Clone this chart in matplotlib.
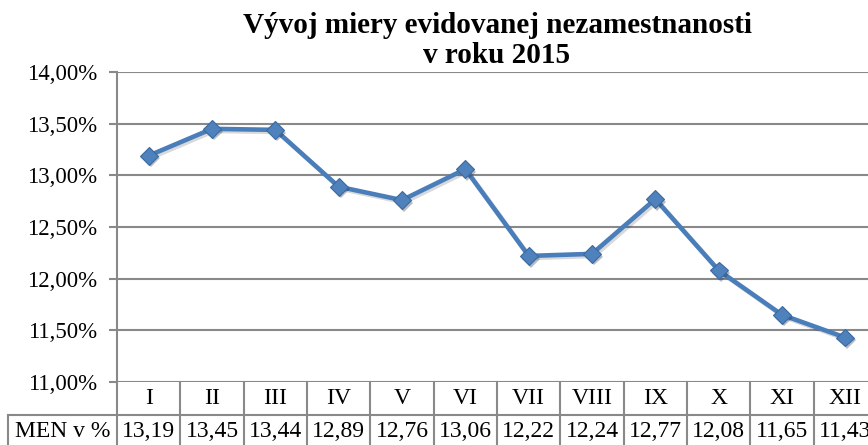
"""Vývoj miery evidovanej nezamestnanosti v roku 2015 - line chart with data table."""
import matplotlib
matplotlib.use("Agg")
import matplotlib.pyplot as plt
import matplotlib.patheffects as pe
from matplotlib.ticker import FuncFormatter, MultipleLocator

months = ["I", "II", "III", "IV", "V", "VI", "VII", "VIII", "IX", "X", "XI", "XII"]
men = [13.19, 13.45, 13.44, 12.89, 12.76, 13.06, 12.22, 12.24, 12.77, 12.08, 11.65, 11.43]
row_label = "MEN v %"
title_lines = ["Vývoj miery evidovanej nezamestnanosti", "v roku 2015"]

plt.rcParams["font.family"] = ["Liberation Serif", "DejaVu Serif"]

W, H = 868, 445
fig = plt.figure(figsize=(W / 100, H / 100), dpi=100)

# plot area in pixels
left_px, right_px = 117, 877
top_px, bot_px = 72, 382
ax = fig.add_axes([left_px / W, 1 - bot_px / H, (right_px - left_px) / W, (bot_px - top_px) / H])

grid_c = "#898989"
line_c = "#4A7EBB"
x = list(range(len(months)))

ax.plot(x, men, color=line_c, lw=3.3, solid_joinstyle="round", zorder=3,
        path_effects=[pe.SimpleLineShadow(offset=(1.5, -1.5), alpha=0.15), pe.Normal()])
ax.plot(x, men, ls="none", marker="D", ms=9, mfc="#4F81BD", mec="#3A6A9F", mew=0.8, zorder=4,
        path_effects=[pe.SimplePatchShadow(offset=(1.5, -2), alpha=0.3), pe.Normal()])

ax.set_xlim(-0.5, len(months) - 0.5)
ax.set_ylim(11, 14)
ax.yaxis.set_major_locator(MultipleLocator(0.5))
ax.yaxis.set_major_formatter(FuncFormatter(lambda v, _: f"{v:.2f}%".replace(".", ",")))
ax.grid(axis="y", color=grid_c, lw=1.5)
ax.set_axisbelow(True)
ax.tick_params(axis="y", length=6, width=1.5, color=grid_c, labelsize=16.5, pad=8.5)
ax.tick_params(axis="x", bottom=False, labelbottom=False)
for s in ["top", "right", "bottom"]:
    ax.spines[s].set_visible(False)
ax.spines["left"].set_color(grid_c)
ax.spines["left"].set_linewidth(1.5)

# data table under the plot, sharing the x scale
px_per_unit = (right_px - left_px) / len(months)
tab_left_px = 8
x0 = -0.5 - (left_px - tab_left_px) / px_per_unit
row_h = 33
tax = fig.add_axes([tab_left_px / W, 1 - (bot_px + 2 * row_h) / H,
                    (right_px - tab_left_px) / W, 2 * row_h / H])
tax.set_xlim(x0, len(months) - 0.5)
tax.set_ylim(0, 2)
tax.axis("off")

tkw = dict(color=grid_c, lw=1.5, solid_capstyle="projecting", clip_on=False)
for k in range(len(months) + 1):
    tax.plot([k - 0.5, k - 0.5], [0, 2], **tkw)
tax.plot([x0, x0], [0, 1], **tkw)
tax.plot([x0, len(months) - 0.5], [1, 1], **tkw)
tax.plot([x0, len(months) - 0.5], [0, 0], **tkw)

for i, (m, v) in enumerate(zip(months, men)):
    tax.text(i, 1.5, m, ha="center", va="center", fontsize=17)
    tax.text(i, 0.5, f"{v:.2f}".replace(".", ","), ha="center", va="center", fontsize=17)
tax.text((x0 - 0.5) / 2, 0.5, row_label, ha="center", va="center", fontsize=17)

# title, two lines centered above the plot area
cx = (left_px + right_px) / 2 / W
fig.text(cx, 1 - 33 / H, title_lines[0], ha="center", va="baseline", fontsize=21, fontweight="bold")
fig.text(cx, 1 - 63 / H, title_lines[1], ha="center", va="baseline", fontsize=21, fontweight="bold")

fig.savefig("out.png", dpi=100)
